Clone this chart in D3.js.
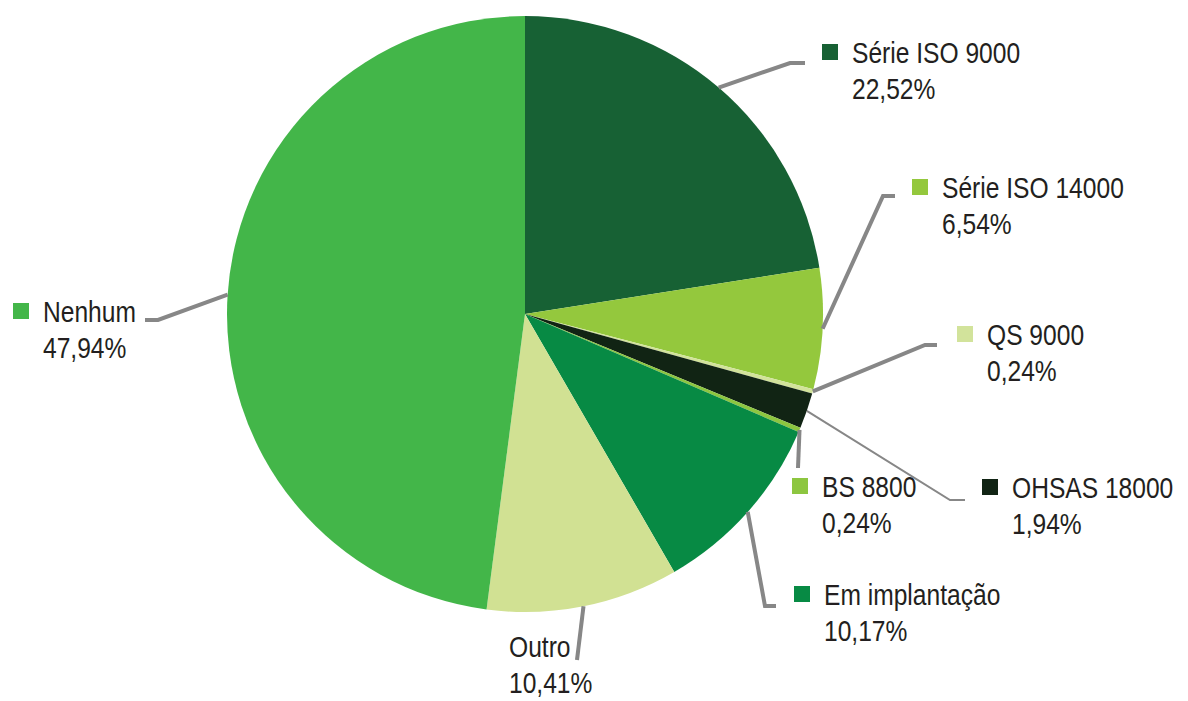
<!DOCTYPE html>
<html>
<head>
<meta charset="utf-8">
<script src="https://cdn.jsdelivr.net/npm/d3@7"></script>
<style>
  body { margin: 0; background: #fff; }
  text { font-family: "Liberation Sans", Arial, sans-serif; fill: #231f20; }
</style>
</head>
<body>
<script>
// Data
const categories = ["Série ISO 9000", "Série ISO 14000", "QS 9000", "OHSAS 18000", "BS 8800", "Em implantação", "Outro", "Nenhum"];
const values = [22.52, 6.54, 0.24, 1.94, 0.24, 10.17, 10.41, 47.94];
const colorsList = ["#176134", "#94c83d", "#d2e39b", "#112414", "#8dc640", "#078a44", "#d1e193", "#43b649"];

// label placement: elbow (ex, ey), line end (lx), text baseline (tx, ty)
const labelLayout = [
	{ ex: 790, ey: 63, lx: 805, tx: 852, ty: 63, marker: true, w: 4 },
	{ ex: 883, ey: 196, lx: 895, tx: 942, ty: 198, marker: true, w: 4 },
	{ ex: 925, ey: 345, lx: 937, tx: 987, ty: 345, marker: true, w: 4 },
	{ ex: 950, ey: 500, lx: 965, tx: 1012, ty: 498, marker: true, w: 2 },
	{ ex: 798, ey: 468, lx: 798, tx: 822, ty: 497, marker: true, w: 4 },
	{ ex: 765, ey: 606, lx: 776, tx: 824, ty: 605, marker: true, w: 4 },
	{ ex: 577, ey: 660, lx: 577, tx: 509, ty: 657, marker: false, w: 4 },
	{ ex: 158, ey: 320, lx: 145, tx: 43, ty: 322, marker: true, w: 4 },
];

const width = 1188, height = 701;
const cx = 525, cy = 314, radius = 298;
const fontSize = 30;
const squeeze = 0.82;
const lineGap = 36;

const svg = d3.select("body")
	.append("svg")
	.attr("width", width)
	.attr("height", height);

const data = categories.map((c, i) => ({ name: c, value: values[i], color: colorsList[i], layout: labelLayout[i] }));

const pie = d3.pie().sort(null).value((d) => d.value);
const arc = d3.arc().innerRadius(0).outerRadius(radius);
const arcs = pie(data);

const g = svg.append("g").attr("transform", `translate(${cx}, ${cy})`);

g.selectAll("path")
	.data(arcs)
	.enter()
	.append("path")
	.attr("d", arc)
	.attr("fill", (d) => d.data.color);

const fmt = (v) => v.toFixed(2).replace(".", ",") + "%";

// Leader lines
svg.append("g")
	.selectAll("polyline")
	.data(arcs)
	.enter()
	.append("polyline")
	.attr("points", (d) => {
		const a = (d.startAngle + d.endAngle) / 2;
		const x0 = cx + radius * Math.sin(a);
		const y0 = cy - radius * Math.cos(a);
		const L = d.data.layout;
		return `${x0},${y0} ${L.ex},${L.ey} ${L.lx},${L.ey}`;
	})
	.attr("fill", "none")
	.attr("stroke", "#878787")
	.attr("stroke-width", (d) => d.data.layout.w);

// Labels
const labels = svg.append("g")
	.selectAll("g")
	.data(arcs)
	.enter()
	.append("g");

labels.filter((d) => d.data.layout.marker)
	.append("rect")
	.attr("x", (d) => d.data.layout.tx - 30)
	.attr("y", (d) => d.data.layout.ty - 19)
	.attr("width", 16)
	.attr("height", 16)
	.attr("fill", (d) => d.data.color);

labels.append("text")
	.attr("transform", (d) => `translate(${d.data.layout.tx}, ${d.data.layout.ty}) scale(${squeeze}, 1)`)
	.style("font-size", fontSize + "px")
	.text((d) => d.data.name);

labels.append("text")
	.attr("transform", (d) => `translate(${d.data.layout.tx}, ${d.data.layout.ty + lineGap}) scale(${squeeze}, 1)`)
	.style("font-size", fontSize + "px")
	.text((d) => fmt(d.data.value));
</script>
</body>
</html>
